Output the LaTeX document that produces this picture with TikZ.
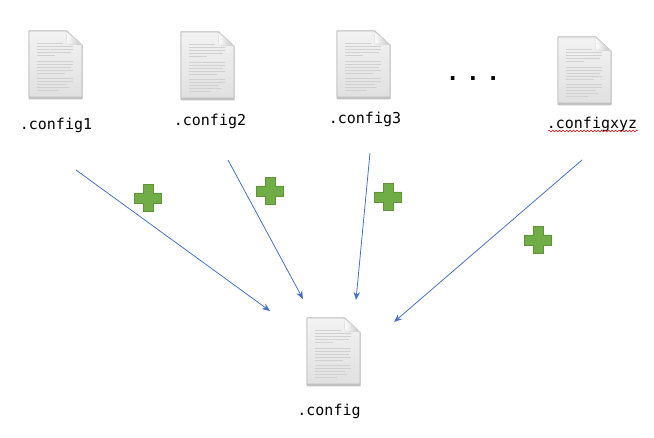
\documentclass[tikz,border=0pt]{standalone}
\usepackage{fontspec}
\setmonofont{DejaVu Sans Mono}
\usetikzlibrary{arrows.meta}
\usetikzlibrary{decorations.pathmorphing}
\definecolor{arrowblue}{HTML}{4472C4}
\definecolor{plusgreen}{HTML}{70AD47}
\definecolor{plusedge}{HTML}{5F9438}
\tikzset{
	filelabel/.style={font=\ttfamily\fontsize{15}{17}\selectfont, text=black, inner sep=0pt},
	mergearrow/.style={arrowblue, line width=0.8pt, -{Stealth[length=8pt,width=6.5pt]}},
	pics/docicon/.style={code={
		% page with a folded corner
		\fill[black!24] (-0.5,0) -- (-0.5,68.5) -- (53.5,68.5) -- (53.5,14) -- (38,-0.5) -- (0,-0.5) -- cycle;
		\path[top color=black!5, bottom color=black!12, draw=black!26, line width=0.8pt]
		(0,0) -- (37,0) -- (53,14) -- (53,66) -- (0,66) -- cycle;
		\path[left color=white, right color=black!24, draw=black!16, line width=0.5pt]
		(37,0) -- (38,13) -- (53,14) -- cycle;
		% lines of text on the page
		\foreach \ypos/\xend in {12/34,15/44,18/44,21/42,24/26,
			30/44,33/44,36/42,39/44,42/36,
			47/44,50/44,53/38,56/40,59/30}
		\draw[black!18, line width=0.9pt] (8,\ypos) -- (\xend,\ypos);
	}},
	pics/plussign/.style={code={
		\draw[plusedge, fill=plusgreen, line width=0.8pt]
		(-5,-13.5) -- (5,-13.5) -- (5,-5) -- (13.5,-5) -- (13.5,5) -- (5,5)
		-- (5,13.5) -- (-5,13.5) -- (-5,5) -- (-13.5,5) -- (-13.5,-5) -- (-5,-5) -- cycle;
	}}
}
\begin{document}
\begin{tikzpicture}[x=1pt,y=-1pt]
	\useasboundingbox (0,0) rectangle (654,438);
	
	% source files
	\pic (iconA) at (29,31) {docicon};
	\pic (iconB) at (181,32) {docicon};
	\pic (iconC) at (337,31) {docicon};
	\pic (iconD) at (558,37) {docicon};
	\node[filelabel] (configA) at (56,125) {.config1};
	\node[filelabel] (configB) at (210,121) {.config2};
	\node[filelabel] (configC) at (365,119) {.config3};
	\node[filelabel] (configD) at (592,124) {.configxyz};
	
	% spell checker underline
	\draw[red!85!black, line width=0.5pt, decorate, decoration={snake, amplitude=0.8pt, segment length=3.5pt}]
	(548,131) -- (638,131);
	
	\node[font=\ttfamily\bfseries\fontsize{22}{24}\selectfont, inner sep=0pt] (dots) at (473,79) {.\hspace{7pt}.\hspace{7pt}.};
	
	% merged file
	\pic (iconE) at (307,318) {docicon};
	\node[filelabel] (configE) at (329,411) {.config};
	
	% arrow ends
	\coordinate (startA) at (76,170);
	\coordinate (startB) at (228,160);
	\coordinate (startC) at (370,153);
	\coordinate (startD) at (582,160);
	\coordinate (endA) at (270,311);
	\coordinate (endB) at (303,299);
	\coordinate (endC) at (356,300);
	\coordinate (endD) at (394,322);
	\draw[mergearrow] (startA) -- (endA);
	\draw[mergearrow] (startB) -- (endB);
	\draw[mergearrow] (startC) -- (endC);
	\draw[mergearrow] (startD) -- (endD);
	
	% plus signs
	\pic (plusA) at (148,198) {plussign};
	\pic (plusB) at (270,191) {plussign};
	\pic (plusC) at (388,197) {plussign};
	\pic (plusD) at (538,240) {plussign};
	
\end{tikzpicture}
\end{document}
